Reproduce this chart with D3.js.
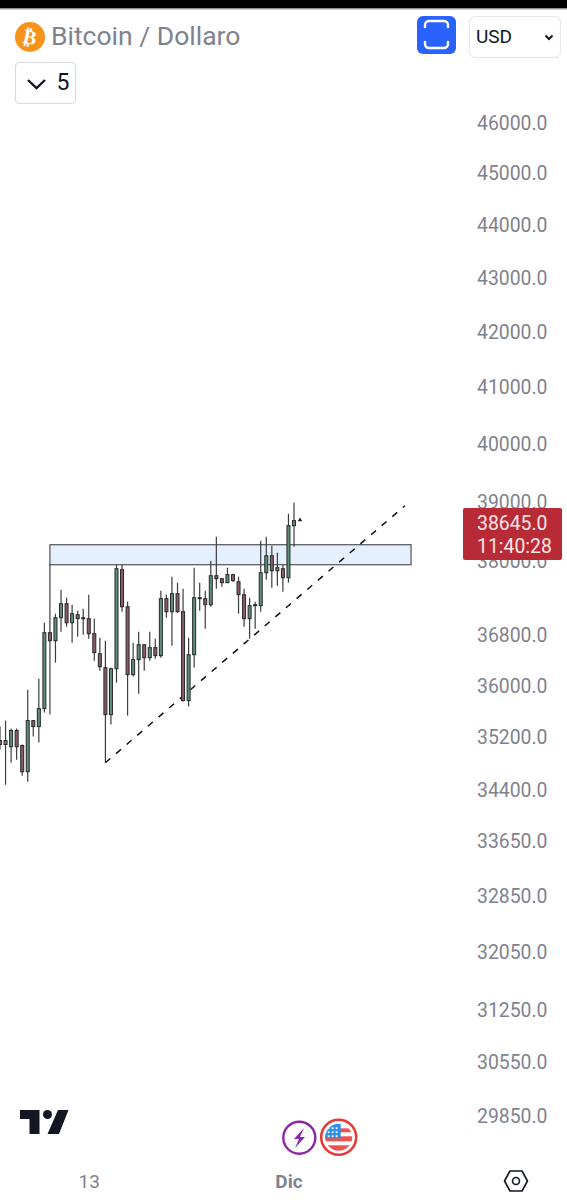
<!DOCTYPE html>
<html>
<head>
<meta charset="utf-8">
<script src="https://cdn.jsdelivr.net/npm/d3@7/dist/d3.min.js"></script>
<style>
html,body{margin:0;padding:0;background:#fff}
svg{display:block}
text{font-family:Roboto,sans-serif}
</style>
</head>
<body>
<svg id="c" width="567" height="1200"></svg>
<script>
const opens  = [35152,35092,35058,35306,35077,34678,35459,35367,35645,36843,36714,37084,37311,37003,37133,37084,37069,36827,36507,36286,35552,36270,37868,37262,36176,36413,36651,36444,36604,36476,37393,37181,37474,37181,35769,36492,37393,37393,37295,37769,37720,37654,37786,37670,37458,37069,37295,37279,37818,38099,37851,37884,37736,38601];
const highs  = [35367,35459,35336,35336,35092,35940,35459,36113,37003,37950,37149,37540,37409,37295,37198,37230,37458,37069,36763,36714,36286,37950,37950,37344,36683,36859,36651,36859,36747,37523,37458,37753,37654,37556,36763,37901,37654,37523,38017,38416,37720,37901,37802,37753,37556,37409,37344,38350,38416,38266,38149,37950,38802,38990];
const lows   = [35015,34482,34815,34860,34618,34527,35214,35122,35583,35552,36365,36859,36939,36683,36779,36811,36747,36396,36239,34815,35398,36050,37181,35536,36145,35878,36239,36396,36429,36444,37084,36635,37165,35754,35676,36286,37198,36907,37262,37556,37588,37654,37670,37149,36939,36747,36907,37181,37703,37572,37605,37506,37654,38249];
const closes = [35092,35152,35306,35058,34678,35459,35367,35645,36843,36714,37084,37311,37003,37149,37069,37069,36827,36524,36302,35552,36270,37884,37262,36176,36413,36651,36444,36604,36476,37393,37181,37474,37181,35769,36492,37409,37409,37295,37769,37720,37654,37786,37687,37458,37069,37279,37279,37818,38099,37851,37901,37736,38601,38685];

const priceTicks = [46000,45000,44000,43000,42000,41000,40000,39000,38000,36800,36000,35200,34400,33650,32850,32050,31250,30550,29850];
const timeTickIndex = [16,52];
const timeTickLabels = ["13","Dic"];

const zoneIndex = [9,74.1];
const zonePrice = [38282,37950];
const trendIndex = [19,73];
const trendPrice = [34815,38938];

const lastPrice = 38645;
const lastPriceLabel = "38645.0";
const countdownLabel = "11:40:28";
const titleText = "Bitcoin / Dollaro";
const currencyText = "USD";
const intervalText = "5";

const svg = d3.select("#c");
const x = d3.scaleLinear().domain([0,53]).range([0,294]);
const y = d3.scaleLog().domain([46000,29850]).range([123,1116]);

/* page chrome */
svg.append("rect").attr("width",567).attr("height",8.5).attr("fill","#000");
svg.append("rect").attr("y",8.5).attr("width",567).attr("height",1).attr("fill","#9aa3a8");

/* axes (under the last price label) */
const yAxis = d3.axisRight(y).tickValues(priceTicks).tickFormat(d=>d3.format(".1f")(d)).tickSize(0).tickPadding(0);
const ya = svg.append("g").attr("transform","translate(477,0)").call(yAxis);
ya.select(".domain").remove();
ya.selectAll("text").attr("font-family","Roboto").attr("font-size",19.4).attr("fill","#7f828e");

const xAxis = d3.axisBottom(x).tickValues(timeTickIndex).tickFormat((d,i)=>timeTickLabels[i]).tickSize(0).tickPadding(0);
const xa = svg.append("g").attr("transform","translate(0,1174)").call(xAxis);
xa.select(".domain").remove();
xa.selectAll("text").attr("font-family","Roboto").attr("font-size",19).attr("fill","#7f828e")
  .attr("font-weight",(d,i)=>i===1?700:400);

/* price zone */
svg.append("rect")
  .attr("x",x(zoneIndex[0])).attr("y",y(zonePrice[0]))
  .attr("width",x(zoneIndex[1])-x(zoneIndex[0]))
  .attr("height",y(zonePrice[1])-y(zonePrice[0]))
  .attr("fill","#e4f0fd").attr("stroke","#4f5358").attr("stroke-width",1.2);

/* trend line */
svg.append("line")
  .attr("x1",x(trendIndex[0])).attr("y1",y(trendPrice[0]))
  .attr("x2",x(trendIndex[1])).attr("y2",y(trendPrice[1]))
  .attr("stroke","#111").attr("stroke-width",1.5).attr("stroke-dasharray","6.5 7.5");

/* candles */
const idx = d3.range(opens.length);
const g = svg.append("g");
g.selectAll("line.w").data(idx).join("line").attr("class","w")
  .attr("x1",i=>x(i)).attr("x2",i=>x(i))
  .attr("y1",i=>y(highs[i])).attr("y2",i=>y(lows[i]))
  .attr("stroke","#3a3c40").attr("stroke-width",1.2);
g.selectAll("rect.b").data(idx).join("rect").attr("class","b")
  .attr("x",i=>x(i)-1.5).attr("width",3)
  .attr("y",i=>y(Math.max(opens[i],closes[i])))
  .attr("height",i=>Math.max(1,Math.abs(y(opens[i])-y(closes[i]))))
  .attr("fill",i=>closes[i]>=opens[i]?"#5f8f78":"#8a5a6a")
  .attr("stroke","#26282b").attr("stroke-width",1);

/* small marker next to last candle */
const mx = x(53)+6, my = y(lastPrice)-3;
svg.append("path").attr("d",d3.symbol(d3.symbolTriangle,9)()).attr("transform",`translate(${mx},${my})`).attr("fill","#222");

/* last price label */
svg.append("rect").attr("x",463).attr("y",508).attr("width",99).attr("height",52).attr("rx",2).attr("fill","#b92a37");
svg.append("text").attr("x",477).attr("y",530).attr("font-size",19.4).attr("fill","#fbe6e6").text(lastPriceLabel);
svg.append("text").attr("x",477).attr("y",553).attr("font-size",19.4).attr("fill","#fbe6e6").text(countdownLabel);

/* header */
svg.append("circle").attr("cx",30).attr("cy",37).attr("r",15).attr("fill","#f7931a");
svg.append("text").attr("x",30).attr("y",44).attr("text-anchor","middle").attr("font-size",20).attr("font-weight",700)
  .attr("fill","#fff").attr("transform","rotate(12 30 37)").style("font-family","'DejaVu Sans'").text("₿");
svg.append("text").attr("x",51).attr("y",45).attr("font-size",26.5).attr("fill","#7f828e").text(titleText);

svg.append("rect").attr("x",417).attr("y",16).attr("width",39).attr("height",38).attr("rx",6).attr("fill","#2962ff");
svg.append("path").attr("d","M425 27v-2a4 4 0 0 1 4-4h15a4 4 0 0 1 4 4v2M425 42v2a4 4 0 0 0 4 4h15a4 4 0 0 0 4-4v-2")
  .attr("fill","none").attr("stroke","#fff").attr("stroke-width",2.4).attr("stroke-linecap","round");

svg.append("rect").attr("x",469.5).attr("y",16.5).attr("width",91).attr("height",41).attr("rx",6).attr("fill","#fff").attr("stroke","#e7e8ea").attr("stroke-width",1.2);
svg.append("text").attr("x",476).attr("y",43).attr("font-size",19).attr("fill","#131722").text(currencyText);
svg.append("path").attr("d","M545.5 35.5l3.5 3.5 3.5-3.5").attr("fill","none").attr("stroke","#131722").attr("stroke-width",2);

svg.append("rect").attr("x",15.5).attr("y",62.5).attr("width",60).attr("height",41).attr("rx",4).attr("fill","#fff").attr("stroke","#d9dadd").attr("stroke-width",1.2);
svg.append("path").attr("d","M28 80l8.500 8 8.500-8").attr("fill","none").attr("stroke","#131722").attr("stroke-width",2.4);
svg.append("text").attr("x",56.500).attr("y",90).attr("font-size",23).attr("fill","#131722").text(intervalText);

/* bottom icons */
svg.append("path").attr("d","M20 1110h19.500v24h-10v-15h-9.500zM58 1110h10.500l-9.500 24h-11.500z").attr("fill","#131722");
svg.append("circle").attr("cx",47.500).attr("cy",1114.500).attr("r",4.500).attr("fill","#131722");

svg.append("circle").attr("cx",299.300).attr("cy",1137.700).attr("r",16).attr("fill","#fff").attr("stroke","#8e24aa").attr("stroke-width",2.400);
svg.append("path").attr("d","M304 1128l-10 11h5l-4 9 10-11h-5z").attr("fill","#8e24aa");

const fx=338.700, fy=1137.300;
svg.append("circle").attr("cx",fx).attr("cy",fy).attr("r",17.500).attr("fill","#fff").attr("stroke","#e53935").attr("stroke-width",2.500);
const defs=svg.append("defs");
defs.append("clipPath").attr("id","fl").append("circle").attr("cx",fx).attr("cy",fy).attr("r",13.500);
const fg=svg.append("g").attr("clip-path","url(#fl)");
fg.append("rect").attr("x",fx-14).attr("y",fy-1).attr("width",28).attr("height",5).attr("fill","#ef5350");
fg.append("rect").attr("x",fx-14).attr("y",fy+8).attr("width",28).attr("height",6).attr("fill","#ef5350");
fg.append("rect").attr("x",fx).attr("y",fy-9).attr("width",14).attr("height",4).attr("fill","#ef5350");
fg.append("rect").attr("x",fx-14).attr("y",fy-14).attr("width",16).attr("height",15).attr("fill","#2d8fe8");
for(const a of [-11,-7,-3]) for(const b of [-10,-6,-2]){
  fg.append("rect").attr("x",fx+a).attr("y",fy+b).attr("width",1.800).attr("height",1.800).attr("fill","#fff");
}

svg.append("path").attr("d","M510 1171h12l5.500 10-5.500 10h-12l-5.500-10z").attr("fill","none").attr("stroke","#131722").attr("stroke-width",1.600).attr("stroke-linejoin","round");
svg.append("circle").attr("cx",516).attr("cy",1181).attr("r",3.500).attr("fill","none").attr("stroke","#131722").attr("stroke-width",1.600);
</script>
</body>
</html>
